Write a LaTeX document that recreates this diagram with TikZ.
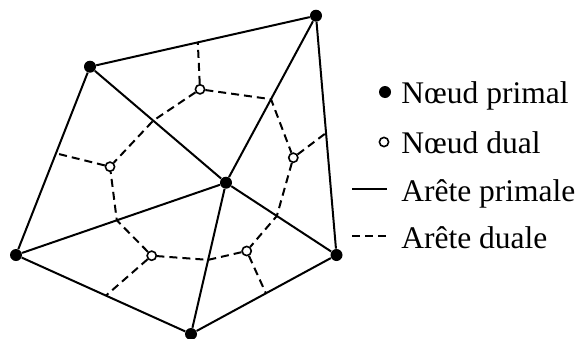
\documentclass[tikz,border=0pt]{standalone}
\usepackage{fontspec}
\setmainfont{Liberation Serif}
\usetikzlibrary{calc}

\begin{document}
\begin{tikzpicture}[
        x=0.5pt, y=-0.5pt,
        primal/.style={circle, fill=black, inner sep=0pt, minimum size=6pt},
        dual/.style={circle, draw, fill=white, line width=0.8pt, inner sep=0pt, minimum size=4.6pt},
        primaledge/.style={line width=1pt},
        dualedge/.style={line width=1pt, dash pattern=on 4pt off 2.5pt},
        legend/.style={anchor=base west, inner sep=0pt, font=\fontsize{15.75}{19}\selectfont}
    ]
        \useasboundingbox (0,0) rectangle (579,338);

        % Primal nodes
        \foreach \i/\x/\y in {1/90/66.7, 2/316/15.7, 3/226/182.7, 4/16/255, 5/191/334, 6/336.5/255}
            \node[primal] (P-\i) at (\x,\y) {};

        % Dual nodes
        \foreach \i/\x/\y in {1/200/89.3, 2/293.3/157.7, 3/110/166.7, 4/151.7/255.7, 5/246.7/251}
            \node[dual] (D-\i) at (\x,\y) {};

        % Crossings of dual edges with primal edges
        \foreach \a/\b/\t in {1/2/0.477, 1/3/0.465, 2/3/0.5, 2/6/0.49, 3/6/0.46,
                              3/5/0.51, 4/3/0.48, 1/4/0.46, 4/5/0.514, 5/6/0.515}
            \coordinate (M-\a\b) at ($(P-\a)!\t!(P-\b)$);

        % Primal edges
        \foreach \a/\b in {1/2, 2/6, 2/3, 1/3, 1/4, 4/3, 4/5, 5/3, 5/6, 3/6}
            \draw[primaledge] (P-\a) -- (P-\b);

        % Dual edges
        \foreach \a/\m/\b in {1/13/3, 1/23/2, 2/36/5, 5/35/4, 4/43/3}
            \draw[dualedge] (D-\a) -- (M-\m) -- (D-\b);
        \foreach \a/\m in {1/12, 2/26, 3/14, 4/45, 5/56}
            \draw[dualedge] (D-\a) -- (M-\m);

        % Legend
        \node[primal] (LP) at (385,92) {};
        \node[dual] (LD) at (384,142) {};
        \coordinate (LS-1) at (352,189);
        \coordinate (LS-2) at (387,189);
        \coordinate (LT-1) at (352,236);
        \coordinate (LT-2) at (387,236);
        \draw[primaledge] (LS-1) -- (LS-2);
        \draw[dualedge] (LT-1) -- (LT-2);
        \node[legend] (TP) at (401,103) {Nœud primal};
        \node[legend] (TD) at (401,153) {Nœud dual};
        \node[legend] (TS) at (401,201) {Arête primale};
        \node[legend] (TT) at (401,248) {Arête duale};
    \end{tikzpicture}
\end{document}
